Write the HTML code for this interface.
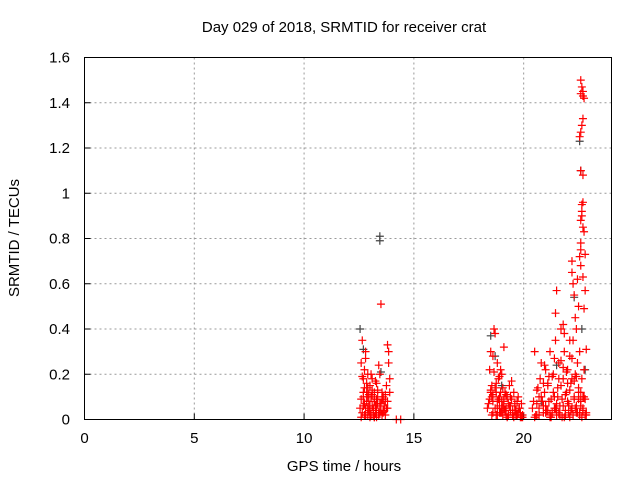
<!DOCTYPE html>
<html><head><meta charset="utf-8"><style>
body{margin:0;background:#fff}
svg{display:block;font-family:"Liberation Sans",sans-serif}
</style></head><body>
<svg id="chart" width="640" height="480">
<text x="344" y="32" text-anchor="middle" font-size="15">Day 029 of 2018, SRMTID for receiver crat</text>
<text x="344" y="471" text-anchor="middle" font-size="15">GPS time / hours</text>
<text transform="translate(19,238) rotate(-90)" text-anchor="middle" font-size="15">SRMTID / TECUs</text>
<g id="grid"></g><g id="ticks"></g><g id="marks"></g>
<rect x="84.5" y="57.5" width="527" height="362" fill="none" stroke="#000" stroke-width="1"/>
</svg>
<script>
const xTicks=[0,5,10,15,20];
const yTicks=[0,0.2,0.4,0.6,0.8,1,1.2,1.4,1.6];
const yTickLabels=["0","0.2","0.4","0.6","0.8","1","1.2","1.4","1.6"];
const redX=[12.55,12.6,12.65,12.7,12.7,12.75,12.8,12.8,12.85,12.9,12.9,12.95,13.0,13.0,13.05,13.1,13.1,13.15,13.2,13.2,13.25,13.3,13.3,13.35,13.4,13.45,13.45,13.5,13.55,13.6,13.6,13.65,13.7,13.75,13.8,13.8,13.85,13.9,13.9,13.5,12.75,12.8,13.05,13.3,13.4,13.6,13.85,14.2,14.4,12.6,12.7,12.9,13.0,13.2,
18.35,18.45,18.5,18.55,18.6,18.65,18.7,18.75,18.8,18.8,18.85,18.9,18.95,19.0,19.0,19.05,19.1,19.15,19.2,19.25,19.3,19.35,19.4,19.45,19.5,19.55,19.6,19.65,19.7,19.75,19.8,19.85,19.9,19.95,18.6,18.75,18.9,19.05,19.25,19.45,19.65,19.85,18.5,18.95,19.1,
20.4,20.5,20.6,20.7,20.75,20.8,20.9,20.95,21.0,21.05,21.1,21.15,21.2,21.3,21.35,21.4,21.45,21.5,21.55,21.6,21.65,21.7,21.75,21.8,21.85,21.9,21.95,22.0,22.05,22.1,22.15,22.2,22.25,22.3,22.35,22.4,22.45,22.5,22.55,22.6,22.65,22.7,22.75,22.8,22.85,20.6,20.85,21.1,21.3,21.5,21.7,21.9,22.1,22.3,22.5,22.7,20.5,20.7,21.0,21.25,21.45,21.65,21.85,22.05,22.25,22.45,22.65,22.85,
21.45,21.5,21.8,21.85,22.1,22.2,22.2,22.25,22.3,22.35,22.4,22.45,22.5,22.55,22.6,22.6,22.65,22.7,22.6,22.65,22.7,22.6,22.65,22.7,22.55,22.6,22.7,22.65,22.75,22.6,22.7,22.65,22.6,22.7,22.75,22.8,22.8,22.75,22.7,22.6,
12.6,12.65,12.7,12.75,12.8,12.85,12.9,12.95,13.0,13.05,13.1,13.15,13.2,13.25,13.3,13.35,13.4,13.5,13.55,13.6,13.65,13.7,13.75,12.65,12.75,12.85,12.95,13.1,13.2,13.35,13.45,13.55,13.7,13.8,12.7,12.9,13.0,13.15,13.25,
18.4,18.5,18.55,18.6,18.7,18.75,18.85,18.9,18.95,19.0,19.05,19.1,19.15,19.2,19.3,19.35,19.4,19.5,19.55,19.6,19.7,19.8,19.9,18.45,18.6,18.7,18.8,18.9,19.0,19.1,19.2,19.3,19.4,19.5,19.6,19.75,19.95,18.55,18.65,18.8,
20.45,20.55,20.65,20.7,20.8,20.9,21.0,21.1,21.2,21.25,21.35,21.4,21.55,21.6,21.7,21.8,21.9,21.95,22.0,22.1,22.15,22.2,22.3,22.4,22.5,22.55,22.6,22.7,22.75,22.85,20.95,21.15,21.4,21.6,21.8,22.0,22.2,22.4,22.6,22.8,20.6,20.9,21.2,21.5,21.75,22.05,22.35,22.55,22.7];
const redY=[0.05,0.25,0.35,0.18,0.1,0.22,0.3,0.05,0.12,0.2,0.02,0.08,0.15,0.04,0.1,0.18,0.06,0.02,0.12,0.08,0.03,0.16,0.05,0.1,0.02,0.07,0.2,0.51,0.12,0.04,0.1,0.06,0.02,0.15,0.33,0.08,0.25,0.12,0.18,0.04,0.14,0.27,0.2,0.09,0.24,0.03,0.3,0,0,0.01,0.06,0.14,0.03,0.01,
0.05,0.22,0.3,0.15,0.08,0.4,0.38,0.12,0.25,0.05,0.18,0.1,0.03,0.2,0.08,0.14,0.05,0.12,0.02,0.1,0.07,0.15,0.04,0.09,0.03,0.12,0.06,0.02,0.08,0.1,0.05,0.03,0.07,0.02,0.28,0.02,0.19,0.06,0.01,0.17,0.04,0.01,0.12,0.22,0.32,
0.05,0.3,0.02,0.1,0.18,0.25,0.06,0.12,0.22,0.04,0.15,0.08,0.3,0.03,0.2,0.1,0.35,0.02,0.14,0.25,0.06,0.4,0.09,0.18,0.3,0.04,0.12,0.22,0.07,0.28,0.16,0.05,0.35,0.1,0.2,0.03,0.25,0.14,0.3,0.06,0.18,0.1,0.22,0.02,0.31,0.13,0.08,0.04,0.19,0.07,0.26,0.11,0.01,0.17,0.09,0.04,0.01,0.02,0.03,0.01,0.05,0.02,0.01,0.06,0.02,0.03,0.01,0.02,
0.47,0.57,0.42,0.38,0.35,0.65,0.7,0.6,0.55,0.45,0.4,0.62,0.5,0.72,0.68,0.88,0.95,0.85,0.78,0.92,1.08,1.1,0.9,0.96,1.25,1.27,1.33,1.3,1.42,1.44,1.45,1.47,1.5,1.43,0.83,0.57,0.73,0.49,0.63,0.75,
0.09,0.03,0.12,0.07,0.02,0.16,0.05,0.11,0.06,0.02,0.13,0.04,0.09,0.06,0.01,0.13,0.03,0.07,0.02,0.09,0.04,0.11,0.05,0.19,0.02,0.08,0.04,0.11,0.01,0.07,0.03,0.09,0.08,0.05,0.06,0.1,0.01,0.05,0.17,
0.07,0.13,0.02,0.11,0.05,0.16,0.09,0.03,0.12,0.05,0.02,0.08,0.04,0.11,0.02,0.06,0.1,0.04,0.01,0.07,0.02,0.05,0.01,0.09,0.03,0.14,0.02,0.06,0.03,0.09,0.05,0.02,0.06,0.02,0.04,0.03,0.01,0.1,0.21,0.08,
0.08,0.02,0.14,0.05,0.1,0.03,0.06,0.16,0.01,0.09,0.12,0.05,0.1,0.03,0.15,0.06,0.02,0.21,0.08,0.13,0.04,0.18,0.09,0.06,0.12,0.03,0.08,0.05,0.1,0.03,0.24,0.19,0.27,0.18,0.23,0.16,0.27,0.19,0.12,0.09,0.07,0.16,0.02,0.04,0.01,0.03,0.05,0.02,0.04];
const greyX=[12.55,12.7,13.45,13.45,13.5,18.5,18.7,19.0,20.8,21.5,22.3,22.55,22.6,22.65,22.8];
const greyY=[0.4,0.31,0.81,0.79,0.21,0.37,0.28,0.15,0.08,0.24,0.54,1.23,1.1,0.4,0.22];
const X0=84.5,X1=611.5,Y0=419.5,Y1=57.5,XMAX=24,YMAX=1.6;
const sx=v=>X0+v/XMAX*(X1-X0), sy=v=>Y0-v/YMAX*(Y0-Y1);
const NS="http://www.w3.org/2000/svg";
const grid=document.getElementById('grid'),ticks=document.getElementById('ticks'),marks=document.getElementById('marks');
function mk(tag,attrs,parent){const e=document.createElementNS(NS,tag);for(const k in attrs)e.setAttribute(k,attrs[k]);parent.appendChild(e);return e;}
xTicks.forEach(t=>{const x=sx(t);
 if(t>0){const g=mk('line',{x1:x,x2:x,y1:Y0,y2:Y1,stroke:'#999','stroke-dasharray':'2,3'},grid);
 
 }
 const tk=mk('line',{x1:x,x2:x,y1:Y0,y2:Y0-6,stroke:'#000'},ticks);
 
 
 const l=mk('text',{x:x,y:443,'text-anchor':'middle','font-size':15},ticks);l.textContent=String(t);
 
 });
yTicks.forEach((t,i)=>{const y=sy(t);
 if(t>0&&t<1.6){const g=mk('line',{x1:X0,x2:X1,y1:y,y2:y,stroke:'#999','stroke-dasharray':'2,3'},grid);
 
 }
 const tk=mk('line',{x1:X0,x2:X0+6,y1:y,y2:y,stroke:'#000'},ticks);
 
 
 const l=mk('text',{x:70,y:y+5,'text-anchor':'end','font-size':15},ticks);l.textContent=yTickLabels[i];
 
 });
function plus(x,y,color,name){const p=mk('path',{d:`M${sx(x)-4},${sy(y)}h8M${sx(x)},${sy(y)-4}v8`,stroke:color,'stroke-width':1.2,fill:'none'},marks);
 
 }
greyX.forEach((x,i)=>plus(x,greyY[i],'#444','grey-point'));
redX.forEach((x,i)=>plus(x,redY[i],'#ff0000','red-point'));
</script>
</body></html>
